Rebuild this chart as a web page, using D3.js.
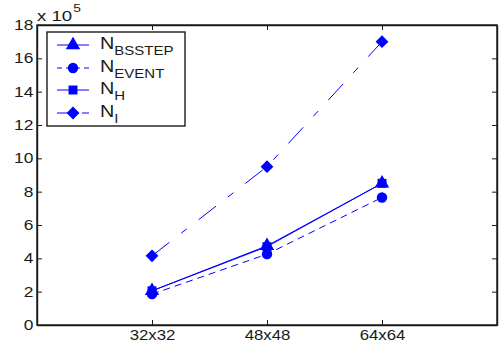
<!DOCTYPE html>
<html>
<head>
<meta charset="utf-8">
<script src="https://cdn.jsdelivr.net/npm/d3@7"></script>
<style>
  body { margin: 0; background: #fff; }
  svg text { font-family: "Liberation Sans", Arial, sans-serif; fill: #1a1a1a; }
</style>
</head>
<body>
<div id="chart"></div>
<script>
// grid sizes on the x axis
const categories = ["32x32", "48x48", "64x64"];
const yTicks = [0, 2, 4, 6, 8, 10, 12, 14, 16, 18];

// values in units of 10^5
const nBsstep = [2.05, 4.75, 8.5];
const nEvent = [1.85, 4.25, 7.65];
const nH = [2.05, 4.7, 8.5];
const nI = [4.15, 9.5, 17.0];

const seriesNames = ["BSSTEP", "EVENT", "H", "I"];

const width = 500, height = 344;
const margin = {top: 25, right: 3, bottom: 19, left: 37};
const blue = "#0000ff";
const stretch = 1.2; // text in the picture is a bit wider than the font

// rotated square for matlab style diamond
const diamond = {
  draw(ctx, size) {
    const r = Math.sqrt(size / 2);
    ctx.moveTo(0, -r); ctx.lineTo(r, 0); ctx.lineTo(0, r); ctx.lineTo(-r, 0); ctx.closePath();
  }
};

const series = [
  {name: seriesNames[0], values: nBsstep, dash: null, marker: d3.symbolTriangle, size: 90},
  {name: seriesNames[1], values: nEvent, dash: "7,5", marker: d3.symbolCircle, size: 85},
  {name: seriesNames[2], values: nH, dash: null, marker: d3.symbolSquare, size: 80},
  {name: seriesNames[3], values: nI, dash: "22,15,7,15", marker: diamond, size: 82}
];

const svg = d3.select("#chart").append("svg")
  .attr("width", width)
  .attr("height", height);

const x = d3.scaleLinear().domain([0, categories.length + 1])
  .range([margin.left, width - margin.right]);
const y = d3.scaleLinear().domain([0, 18])
  .range([height - margin.bottom, margin.top]);

const x0 = margin.left, x1 = width - margin.right;
const y0 = height - margin.bottom, y1 = margin.top;

// axes, ticks on all four sides pointing inward (matlab box)
svg.append("g")
  .attr("transform", `translate(0, ${y0})`)
  .call(d3.axisBottom(x).tickValues(categories.map((d, i) => i + 1))
    .tickFormat((d, i) => categories[i]).tickSizeInner(-5).tickSizeOuter(0))
  .call(g => g.selectAll("text")
    .attr("font-size", 14).attr("y", 15).attr("dy", null)
    .attr("transform", `scale(${stretch},1)`));

svg.append("g")
  .attr("transform", `translate(0, ${y1})`)
  .call(d3.axisTop(x).tickValues(categories.map((d, i) => i + 1))
    .tickFormat("").tickSizeInner(-5).tickSizeOuter(0));

svg.append("g")
  .attr("transform", `translate(${x0}, 0)`)
  .call(d3.axisLeft(y).tickValues(yTicks).tickSizeInner(-5).tickSizeOuter(0).tickPadding(3))
  .call(g => g.selectAll("text").attr("font-size", 14.5)
    .attr("transform", `scale(${stretch},1)`));

svg.append("g")
  .attr("transform", `translate(${x1}, 0)`)
  .call(d3.axisRight(y).tickValues(yTicks).tickFormat("").tickSizeInner(-5).tickSizeOuter(0));

svg.selectAll(".domain").attr("stroke", "#1a1a1a").attr("stroke-width", 1.4);
svg.selectAll(".tick line").attr("stroke", "#1a1a1a");

svg.append("rect")
  .attr("x", x0).attr("y", y1)
  .attr("width", x1 - x0).attr("height", y0 - y1)
  .attr("fill", "none").attr("stroke", "#1a1a1a").attr("stroke-width", 1.4);

// exponent label
const expo = svg.append("text").attr("font-size", 15.5)
  .attr("transform", `translate(37, 21) scale(${stretch},1)`);
expo.append("tspan").text("x 10");
expo.append("tspan").attr("font-size", 11.5).attr("dy", -9).attr("dx", 1).text("5");

const line = d3.line()
  .x((d, i) => x(i + 1))
  .y(d => y(d));

series.forEach(s => {
  svg.append("path")
    .datum(s.values)
    .attr("d", line)
    .attr("fill", "none")
    .attr("stroke", blue)
    .attr("stroke-width", 1)
    .attr("stroke-dasharray", s.dash);

  svg.selectAll(null).data(s.values)
    .join("path")
    .attr("transform", (d, i) => `translate(${x(i + 1)}, ${y(d)})`)
    .attr("d", d3.symbol().type(s.marker).size(s.size))
    .attr("fill", blue);
});

// legend
const legend = svg.append("g").attr("transform", "translate(47, 32)");
legend.append("rect")
  .attr("width", 138).attr("height", 94)
  .attr("fill", "#fff").attr("stroke", "#1a1a1a").attr("stroke-width", 1.4);

const rowY = [13, 36, 58, 81];
series.forEach((s, i) => {
  const row = legend.append("g").attr("transform", `translate(0, ${rowY[i]})`);
  row.append("line")
    .attr("x1", 10).attr("x2", 42)
    .attr("stroke", blue).attr("stroke-width", 1)
    .attr("stroke-dasharray", s.dash ? (i === 3 ? "22,3" : "5,4") : null);
  row.append("path")
    .attr("transform", "translate(26, 0)")
    .attr("d", d3.symbol().type(s.marker).size(s.size))
    .attr("fill", blue);
  const t = row.append("text").attr("font-size", 16.5)
    .attr("transform", `translate(53, 4) scale(${stretch},1)`);
  t.append("tspan").text("N");
  t.append("tspan").attr("font-size", 12.5).attr("dy", 6).text(s.name);
});
</script>
</body>
</html>
